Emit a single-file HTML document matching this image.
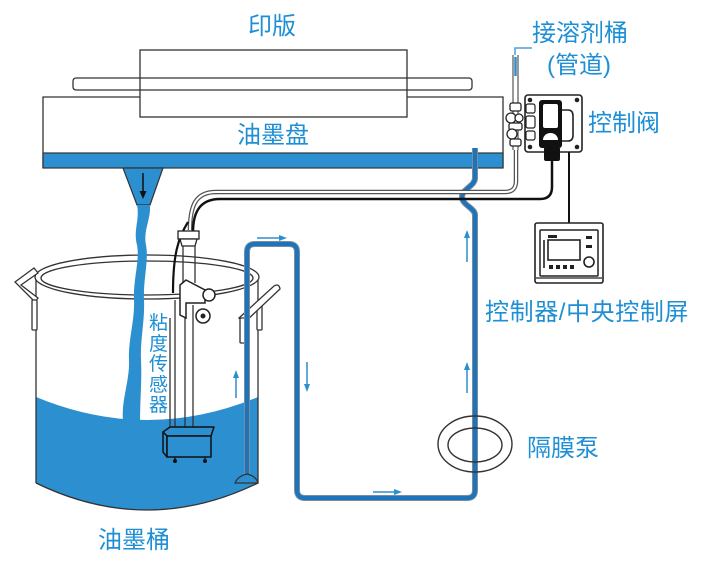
<!DOCTYPE html>
<html>
<head>
<meta charset="utf-8">
<style>
  html, body { margin: 0; padding: 0; background: #ffffff; }
  body { width: 720px; height: 570px; overflow: hidden; }
  svg { display: block; }
  .t { font-family: "Liberation Sans", "Noto Sans CJK SC", sans-serif; fill: #1e8fd5; font-size: 24px; }
</style>
</head>
<body>
<svg width="720" height="570" viewBox="0 0 720 570" xmlns="http://www.w3.org/2000/svg">
  <rect x="0" y="0" width="720" height="570" fill="#ffffff"/>

  <!-- ===== Printing plate / ink tray ===== -->
  <g fill="none" stroke="#333" stroke-width="1.3">
    <rect x="73" y="78" width="399" height="12" rx="3"/>
    <rect x="140" y="50" width="267" height="67"/>
    <path d="M43,168 V97 H140 M407,97 H503 V168"/>
  </g>
  <rect x="43" y="153" width="460" height="15" fill="#2b8fd0" stroke="#333" stroke-width="1.2"/>
  <polygon points="123,168 163,168 150,205 137,205" fill="#2b8fd0" stroke="#333" stroke-width="1.2"/>
  <line x1="137" y1="205" x2="150" y2="205" stroke="#333" stroke-width="1.2"/>
  <line x1="143" y1="173" x2="143" y2="194" stroke="#111" stroke-width="1.5"/>
  <polygon points="139.5,191 146.5,191 143,199" fill="#111"/>

  <!-- ===== Bucket ===== -->
  <path d="M36,397 Q147,443 258,397 L258,483 Q147,537 36,483 Z" fill="#2b8fd0"/>
  <g fill="none" stroke="#333" stroke-width="1.3">
    <line x1="36" y1="280" x2="36" y2="483"/>
    <line x1="258" y1="280" x2="258" y2="483"/>
    <path d="M36,483 Q147,537 258,483"/>
    <ellipse cx="147" cy="277" rx="112" ry="22"/>
    <ellipse cx="147" cy="278" rx="106" ry="17"/>
  </g>
  <g fill="#fff" stroke="#333" stroke-width="1.3">
    <path d="M15,282 L34,268 L38,273 L21,285 L38,298 L35,302 Z"/>
    <rect x="32" y="300" width="5" height="30" rx="1"/>
  </g>
  <g fill="#fff" stroke="#333" stroke-width="1.3">
    <rect x="257" y="303" width="5" height="27" rx="1"/>
    <path d="M239,318 L274,286 Q279,283 280,289 L245,322 Z"/>
    <rect x="240" y="318" width="5" height="25" rx="1"/>
  </g>

  <!-- stream -->
  <path d="M137,205 C140,220 133,230 137,245 C140,260 133,280 134,300 C135,320 128,340 129,360 C130,380 121,400 123,421 L140,423 C140,400 142,380 141,360 C140,340 145,320 144,300 C143,280 149,260 146,245 C143,230 151,220 150,205 Z" fill="#2b8fd0"/>

  <!-- ===== Blue circulation pipe ===== -->
  <path d="M247,478 V252 Q247,244 255,244 H289 Q297,244 297,252 V490 Q297,498 305,498 H467 Q475,498 475,490 V215 C475,208 462,205 462,197 C462,189 475,186 475,178 V148"
        fill="none" stroke="#7c8c9a" stroke-width="6"/>
  <path d="M247,478 V252 Q247,244 255,244 H289 Q297,244 297,252 V490 Q297,498 305,498 H467 Q475,498 475,490 V215 C475,208 462,205 462,197 C462,189 475,186 475,178 V148"
        fill="none" stroke="#1e74bb" stroke-width="4"/>
  <path d="M235,483 Q238,476 247,474 Q256,476 258,483 Z" fill="#2b8fd0" stroke="#333" stroke-width="1.2"/>

  <!-- flow arrows -->
  <g stroke="#2b8fd0" stroke-width="1.5" fill="#2b8fd0">
    <line x1="257" y1="238" x2="281" y2="238"/>
    <polygon points="279,235 287,238 279,241" stroke="none"/>
    <line x1="307" y1="362" x2="307" y2="386"/>
    <polygon points="304,384 310,384 307,392" stroke="none"/>
    <line x1="236" y1="398" x2="236" y2="376"/>
    <polygon points="233,378 239,378 236,370" stroke="none"/>
    <line x1="467" y1="393" x2="467" y2="368"/>
    <polygon points="464,370 470,370 467,362" stroke="none"/>
    <line x1="467" y1="262" x2="467" y2="236"/>
    <polygon points="464,238 470,238 467,230" stroke="none"/>
    <line x1="373" y1="492" x2="396" y2="492"/>
    <polygon points="394,489 402,492 394,495" stroke="none"/>
  </g>

  <!-- ===== Diaphragm pump ===== -->
  <g fill="none" stroke="#333" stroke-width="1.4">
    <ellipse cx="475" cy="444" rx="37" ry="28"/>
    <ellipse cx="475" cy="445" rx="27" ry="17"/>
  </g>

  <!-- ===== Cables ===== -->
  <path d="M190,230 C190,205 196,192 216,192 H505 Q516,192 516,181 V150" fill="none" stroke="#555" stroke-width="4.5"/>
  <path d="M190,230 C190,205 196,192 216,192 H505 Q516,192 516,181 V150" fill="none" stroke="#fff" stroke-width="2"/>
  <path d="M193,232 C193,212 200,199 220,199 H540 Q552,199 552,187 V160" fill="none" stroke="#111" stroke-width="2.5"/>
  <path d="M188,222 C178,238 173,255 173,293" fill="none" stroke="#111" stroke-width="2.2"/>

  <!-- ===== Solvent tube & valve ===== -->
  <path d="M515,55 V48 H532" fill="none" stroke="#4a9fd8" stroke-width="1.5"/>
  <line x1="513" y1="55" x2="513" y2="150" stroke="#555" stroke-width="1.2"/>
  <line x1="518" y1="55" x2="518" y2="150" stroke="#555" stroke-width="1.2"/>
  <line x1="515.5" y1="57" x2="515.5" y2="76" stroke="#2b8fd0" stroke-width="2.5"/>
  <g fill="#fff" stroke="#222" stroke-width="1.3">
    <rect x="510" y="103" width="11" height="8" rx="2"/>
    <circle cx="511" cy="118" r="5"/>
    <circle cx="519" cy="118" r="4"/>
    <rect x="509" y="123" width="13" height="7" rx="2"/>
    <circle cx="512" cy="134" r="5"/>
    <rect x="510" y="139" width="11" height="7" rx="2"/>
  </g>

  <rect x="525" y="95" width="57" height="57" rx="3" fill="#fff" stroke="#222" stroke-width="1.6"/>
  <g fill="#222">
    <circle cx="530" cy="100" r="2.3"/>
    <circle cx="577" cy="100" r="2.3"/>
    <circle cx="530" cy="147" r="2.3"/>
    <circle cx="577" cy="147" r="2.3"/>
  </g>
  <g fill="#fff" stroke="#222" stroke-width="1.2">
    <rect x="526" y="104" width="9" height="9" rx="2"/>
    <rect x="526" y="116" width="9" height="12" rx="2"/>
    <rect x="526" y="131" width="9" height="9" rx="2"/>
  </g>
  <rect x="539" y="100" width="23" height="48" rx="3" fill="#111"/>
  <rect x="543" y="104" width="15" height="24" rx="2" fill="#fff"/>
  <path d="M543,140 A7.5,7 0 0 1 558,140 Z" fill="#fff"/>
  <path d="M562,110 H568 Q573,110 573,116 V135 Q573,141 568,141 H562" fill="none" stroke="#222" stroke-width="1.6"/>
  <rect x="544" y="147" width="16" height="14" rx="2" fill="#111"/>

  <line x1="569" y1="152" x2="569" y2="224" stroke="#111" stroke-width="2"/>

  <!-- controller -->
  <rect x="535" y="223" width="68" height="60" rx="2" fill="#fff" stroke="#222" stroke-width="1.6"/>
  <rect x="540" y="230" width="58" height="46" rx="1" fill="none" stroke="#222" stroke-width="1.5"/>
  <rect x="548" y="240" width="32" height="20" fill="none" stroke="#222" stroke-width="1.6"/>
  <rect x="548" y="235" width="9" height="3" fill="#222"/>
  <rect x="586" y="236" width="6" height="3" fill="#222"/>
  <rect x="586" y="245" width="6" height="3" fill="#222"/>
  <line x1="544" y1="240" x2="544" y2="268" stroke="#222" stroke-width="1.6"/>
  <circle cx="589" cy="262" r="5" fill="none" stroke="#222" stroke-width="1.6"/>
  <g fill="#222">
    <rect x="549" y="265" width="4" height="4"/>
    <rect x="556" y="265" width="4" height="4"/>
    <rect x="563" y="265" width="4" height="4"/>
    <rect x="570" y="265" width="4" height="4"/>
  </g>
  <line x1="536" y1="278" x2="602" y2="278" stroke="#222" stroke-width="1.3"/>

  <!-- ===== Viscosity sensor ===== -->
  <g fill="#fff" stroke="#222" stroke-width="1.3">
    <rect x="178" y="231" width="21" height="8"/>
    <polygon points="180,239 197,239 195,246 182,246"/>
  </g>
  <g stroke="#333" stroke-width="1.3">
    <line x1="183" y1="246" x2="183" y2="283"/>
    <line x1="195" y1="246" x2="195" y2="283"/>
    <line x1="170" y1="318" x2="170" y2="432"/>
    <line x1="175" y1="300" x2="175" y2="432"/>
    <line x1="185" y1="305" x2="185" y2="432"/>
    <line x1="193" y1="305" x2="193" y2="432"/>
  </g>
  <g fill="#fff" stroke="#222" stroke-width="1.5">
    <path d="M180,285 L186,280 L205,290 L205,303 L186,303 L186,318 L180,315 Z"/>
    <circle cx="209" cy="295" r="6"/>
    <circle cx="203" cy="316" r="7"/>
  </g>
  <circle cx="203" cy="316" r="2.5" fill="#222"/>

  <g fill="#2b8fd0" stroke="#111" stroke-width="1.5" stroke-linejoin="round">
    <polygon points="163,432 170,427 214,427 211,436 167,436"/>
    <polygon points="163,432 167,436 167,457 163,452"/>
    <rect x="167" y="436" width="44" height="21"/>
  </g>
  <g stroke="#111" stroke-width="1.3">
    <line x1="175" y1="457" x2="175" y2="461"/>
    <line x1="205" y1="457" x2="205" y2="461"/>
  </g>
  <circle cx="175" cy="461" r="2" fill="#111"/>
  <circle cx="205" cy="461" r="2" fill="#111"/>

  <!-- ===== Labels ===== -->
  <text class="t" x="248" y="34">印版</text>
  <text class="t" x="237" y="143">油墨盘</text>
  <text class="t" x="98" y="548">油墨桶</text>
  <text class="t" x="527" y="456">隔膜泵</text>
  <text class="t" x="588" y="131">控制阀</text>
  <text class="t" x="532" y="41">接溶剂桶</text>
  <text class="t" x="547" y="73">(管道)</text>
  <text class="t" x="485" y="320" letter-spacing="0.6">控制器/中央控制屏</text>
  <g class="t" style="font-size:19px">
    <text x="149" y="329">粘</text>
    <text x="149" y="350">度</text>
    <text x="149" y="370">传</text>
    <text x="149" y="391">感</text>
    <text x="149" y="411">器</text>
  </g>
</svg>
</body>
</html>
